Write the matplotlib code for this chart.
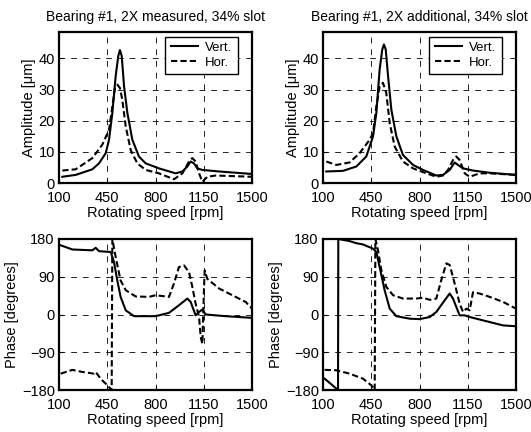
import matplotlib.pyplot as plt
import numpy as np

plt.rcParams['font.family'] = ['Liberation Sans', 'DejaVu Sans']
plt.rcParams['font.size'] = 10

# amplitude, measured
am_x_v = [124, 221, 342, 390, 439, 463, 487, 511, 530, 542, 555, 572, 596, 632, 680, 729, 825, 946, 995, 1031, 1055, 1079, 1103, 1140, 1261, 1500]
am_y_v = [2.0, 2.6, 4.4, 6.3, 9.6, 13.9, 22.5, 34.3, 40.8, 42.7, 40.8, 31, 22.5, 13.9, 8.5, 6.3, 4.7, 3.1, 3.7, 5.3, 6.9, 6.3, 4.7, 4.2, 3.7, 2.9]
am_x_h = [124, 221, 342, 414, 463, 487, 506, 523, 542, 559, 584, 620, 668, 729, 825, 934, 995, 1043, 1067, 1091, 1116, 1140, 1176, 1236, 1500]
am_y_h = [4.0, 4.4, 8.0, 12.3, 17.1, 24.6, 30.5, 31.6, 30.5, 26.8, 18.2, 10.6, 6.3, 4.2, 3.1, 1.2, 3.1, 6.9, 8.0, 6.9, 3.1, 0.4, 2.0, 2.4, 2.0]

# amplitude, additional
aa_x_v = [124, 245, 342, 414, 463, 487, 511, 530, 542, 555, 572, 596, 632, 680, 753, 825, 922, 970, 1019, 1055, 1079, 1116, 1188, 1309, 1500]
aa_y_v = [3.7, 3.9, 5.3, 8.5, 15, 22.5, 36.5, 42.9, 44.5, 42.9, 34.3, 23.5, 15, 9, 5.8, 4.2, 2.4, 2.6, 4.2, 6.6, 5.8, 4.7, 4.0, 3.3, 2.6]
aa_x_h = [124, 197, 293, 366, 439, 463, 487, 511, 535, 559, 584, 620, 680, 753, 850, 922, 970, 1007, 1043, 1067, 1091, 1128, 1164, 1236, 1309, 1500]
aa_y_h = [6.9, 5.8, 6.6, 9.6, 13.9, 16, 24.6, 31, 32.2, 28.9, 19.2, 11.7, 6.9, 4.7, 3.1, 2.0, 2.4, 4.2, 7.4, 8.5, 7.4, 3.1, 2.0, 3.1, 3.1, 2.6]

# phase, measured
pm_x_v = [112, 197, 342, 366, 390, 475, 499, 523, 547, 584, 644, 801, 898, 970, 1031, 1055, 1091, 1116, 1140, 1164, 1309, 1500]
pm_y_v = [165, 155, 153, 159, 151, 149, 125, 81, 42, 10, -4, -4, 4, 22, 38, 30, -2, 6, 12, 0, -4, -8]
pm_x_h = [112, 197, 269, 354, 366, 402, 451, 475, 482, 487, 511, 547, 584, 656, 753, 801, 898, 934, 970, 1007, 1043, 1067, 1091, 1116, 1128, 1140, 1152, 1157, 1176, 1261, 1357, 1454, 1500]
pm_y_h = [-141, -132, -137, -141, -137, -153, -169, -177, -180, 180, 137, 81, 58, 43, 42, 46, 42, 74, 113, 117, 101, 66, 26, -6, -54, -70, 66, 105, 85, 62, 46, 30, 14]

# phase, additional
pa_x_v = [112, 209, 211, 293, 342, 390, 463, 487, 511, 547, 584, 632, 729, 801, 874, 922, 983, 1019, 1043, 1091, 1128, 1164, 1309, 1406, 1500]
pa_y_v = [-153, -180, 180, 175, 170, 167, 157, 149, 113, 58, 14, -4, -10, -11, -6, 6, 34, 50, 38, -2, -2, -6, -18, -26, -28]
pa_x_h = [112, 197, 293, 390, 451, 475, 480, 499, 523, 559, 608, 680, 777, 825, 874, 922, 958, 995, 1019, 1055, 1091, 1116, 1140, 1164, 1188, 1236, 1309, 1406, 1500]
pa_y_h = [-132, -133, -141, -153, -169, -180, 180, 153, 106, 66, 46, 38, 38, 40, 35, 38, 82, 122, 118, 74, 26, 6, 14, 10, 53, 50, 42, 30, 14]

titles = ['Bearing #1, 2X measured, 34% slot', 'Bearing #1, 2X additional, 34% slot']
xticks = [100, 450, 800, 1150, 1500]

fig = plt.figure(figsize=(5.31, 4.32), dpi=100)
W, H = 531, 432
boxes = [(59, 32), (323, 32), (59, 239), (323, 239)]
axs = [fig.add_axes([x / W, 1 - (y + 151) / H, 193 / W, 151 / H]) for x, y in boxes]

data = [(am_x_v, am_y_v, am_x_h, am_y_h), (aa_x_v, aa_y_v, aa_x_h, aa_y_h),
        (pm_x_v, pm_y_v, pm_x_h, pm_y_h), (pa_x_v, pa_y_v, pa_x_h, pa_y_h)]

for i, ax in enumerate(axs):
    xv, yv, xh, yh = data[i]
    ax.plot(xv, yv, 'k-', lw=1.5, label='Vert.')
    ax.plot(xh, yh, 'k--', lw=1.5, dashes=(3, 1.5), label='Hor.')
    ax.set_xlim(100, 1500)
    ax.set_xticks(xticks)
    ax.set_xlabel('Rotating speed [rpm]', labelpad=1, fontsize=10.5)
    ax.grid(True, color='#222222', ls=(0, (6, 6)), lw=0.7)
    ax.tick_params(direction='in', length=3, labelsize=10.5)
    ax.tick_params(axis='x', pad=5.5)
    ax.tick_params(axis='y', pad=3)
    for s in ax.spines.values():
        s.set_linewidth(1.6)
    if i < 2:
        ax.set_ylim(0, 48.5)
        ax.set_yticks([0, 10, 20, 30, 40])
        ax.set_ylabel('Amplitude [μm]', labelpad=2, fontsize=10.5)
        ax.set_title(titles[i], fontsize=10, pad=8)
        leg = ax.legend(loc='upper right', bbox_to_anchor=(0.925, 0.97),
                        fancybox=False, edgecolor='k', framealpha=1,
                        handlelength=2.1, borderpad=0.4, labelspacing=0.2,
                        handletextpad=0.5, fontsize=9.5, borderaxespad=0)
        leg.get_frame().set_linewidth(1.0)
    else:
        ax.set_ylim(-180, 180)
        ax.set_yticks([-180, -90, 0, 90, 180])
        ax.set_ylabel('Phase [degrees]', labelpad=2, fontsize=10.5)

fig.savefig('out.png', dpi=100)
